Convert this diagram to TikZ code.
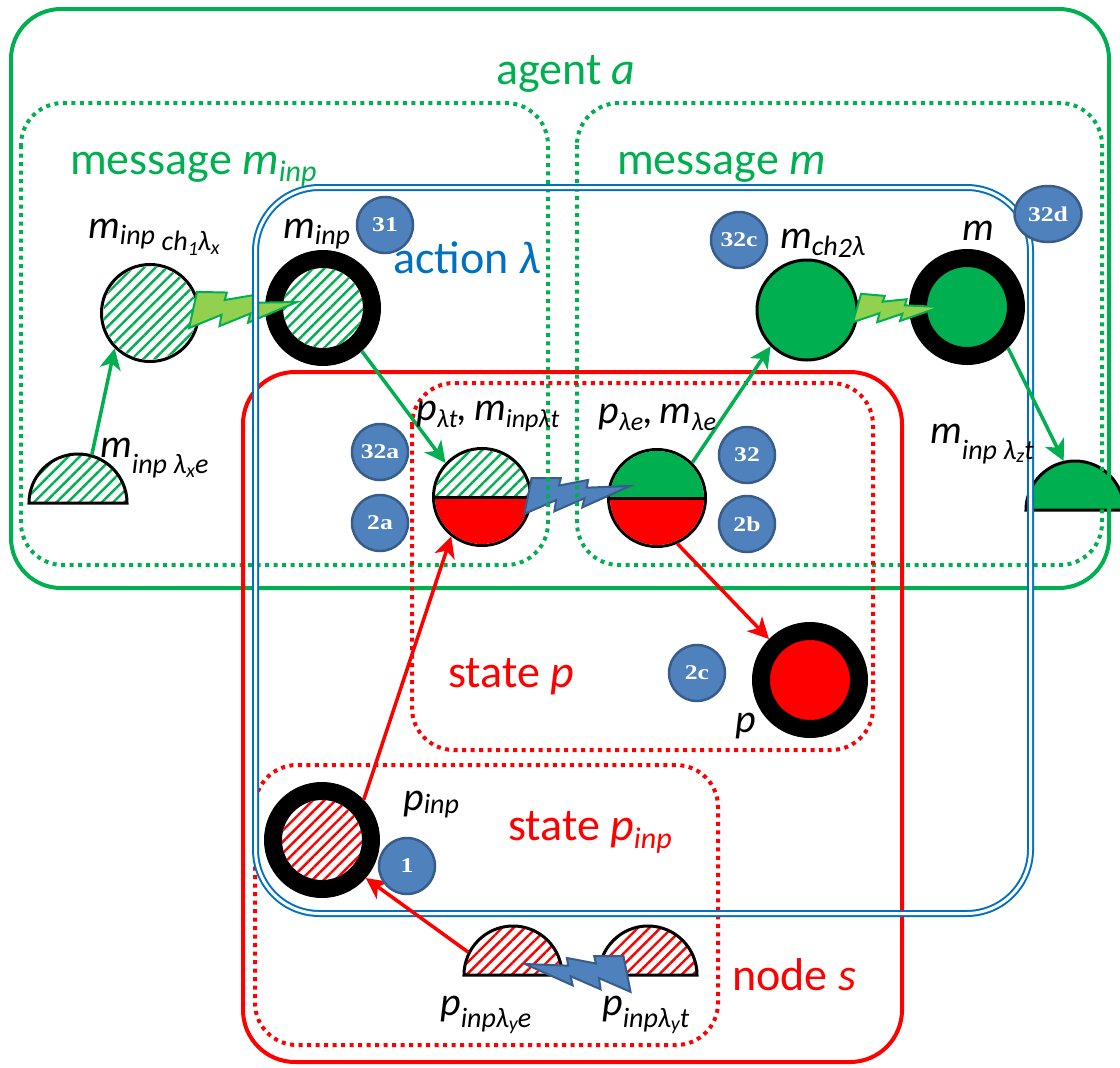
\documentclass[tikz,border=0pt]{standalone}
\usepackage{fontspec}
\setmainfont{Carlito}
\newfontfamily\badgefont{Liberation Serif}
\usetikzlibrary{arrows.meta,patterns.meta,calc,shapes.geometric}

\definecolor{agreen}{HTML}{00B050}
\definecolor{lgreen}{HTML}{92D050}
\definecolor{ablue}{HTML}{0070C0}
\definecolor{bfill}{HTML}{4F81BD}
\definecolor{bdraw}{HTML}{385D8A}
\definecolor{ared}{HTML}{FF0000}

\newcommand\sz[1]{\fontsize{#1}{#1}\selectfont}
% lowered, resized text for subscripts: {drop}{size}{text}
\newcommand\lw[3]{\raisebox{-#1pt}{\sz{#2}#3}}
% badge numbers, set a little wide
\newcommand\bnum[1]{\scalebox{1.22}[1]{#1}}

% lightning bolt from base point #1 to tip #2, #3 = 1 or -1 (mirror), #4 = style
\newcommand\bolt[4]{%
  \path (#1); \pgfgetlastxy{\bax}{\bay}%
  \path (#2); \pgfgetlastxy{\bbx}{\bby}%
  \pgfmathsetmacro\bdx{\bbx-\bax}%
  \pgfmathsetmacro\bdy{\bby-\bay}%
  \gdef\bpath{}%
  \foreach \bu/\bv in {0.0514/-0.1701,0.3359/-0.1420,0.3107/-0.0722,0.5991/-0.0986,0.5782/-0.0249,1/0,0.5164/0.1624,0.5457/0.0758,0.2416/0.1735,0.2689/0.0663,-0.0514/0.1701}{%
    \pgfmathsetmacro\bpx{\bax+(\bu)*(\bdx)+(#3)*(\bv)*(\bdy)}%
    \pgfmathsetmacro\bpy{\bay+(\bu)*(\bdy)-(#3)*(\bv)*(\bdx)}%
    \xdef\bpath{\bpath(\bpx pt,\bpy pt)--}%
  }%
  \tikzset{boltcur/.style={#4}}%
  \edef\bcmd{\noexpand\draw[boltcur]\bpath cycle;}\bcmd
}

\tikzset{
  solidbox/.style={line width=4pt, rounded corners=50pt},
  dotbox/.style={line width=4pt, dash pattern=on 4pt off 4.5pt, rounded corners=42pt},
  badge/.style={circle, fill=bfill, draw=bdraw, line width=2.5pt, minimum size=56pt, inner sep=0pt,
    text=white, font=\badgefont\bfseries\sz{21}},
  ring/.style={circle, draw=black, line width=18pt, minimum size=98pt, inner sep=0pt},
  disc/.style={circle, draw=black, line width=3pt, minimum size=97pt, inner sep=0pt},
  anchorcirc/.style={circle, minimum size=100pt, inner sep=0pt},
  ghatch/.style={pattern={Lines[angle=45,distance=8pt,line width=2.4pt]}, pattern color=agreen},
  rhatch/.style={pattern={Lines[angle=45,distance=8pt,line width=2.4pt]}, pattern color=ared},
  garrow/.style={draw=agreen, line width=3.5pt, -{Stealth[length=21pt,width=21pt,inset=6pt]}},
  rarrow/.style={draw=ared, line width=3.5pt, -{Stealth[length=21pt,width=21pt,inset=6pt]}},
  greenbolt/.style={fill=lgreen, draw=agreen, line width=2pt},
  bluebolt/.style={fill=bfill, draw=bdraw, line width=2pt},
  lab/.style={inner sep=0pt, anchor=base west, font=\itshape\sz{40}},
  title/.style={inner sep=0pt, anchor=base west, font=\sz{46}},
}

\newcommand\halfdisc[2]{%
  \draw[line width=3pt, #2] ($(#1.center)+(-49,0)$) arc[start angle=180, end angle=360, radius=49] -- cycle;}

\begin{document}
\begin{tikzpicture}[x=1pt, y=-1pt]
\useasboundingbox (0,0) rectangle (1120,1068);
\fill[white] (0,0) rectangle (1120,1068);

% ---------- half discs ----------
\node[anchorcirc] (hx)  at (78,503)   {};
\node[anchorcirc] (hz)  at (1075,510) {};
\node[anchorcirc] (hye) at (513,975)  {};
\node[anchorcirc] (hyt) at (648,975)  {};
\halfdisc{hx}{ghatch}
\halfdisc{hz}{fill=agreen}
\halfdisc{hye}{rhatch}
\halfdisc{hyt}{rhatch}

% ---------- circles ----------
\node[disc] (c1) at (150,313) {};
\fill[ghatch] (c1.center) circle (46.5);

\node[ring] (mi) at (323,308) {};
\fill[ghatch] (mi.center) circle (40);

\node[disc] (sl) at (482,497) {};
\begin{scope}
  \clip ($(sl.center)+(-60,-60)$) rectangle ($(sl.center)+(60,0)$);
  \fill[ghatch] (sl.center) circle (47);
\end{scope}
\begin{scope}
  \clip ($(sl.center)+(-60,0)$) rectangle ($(sl.center)+(60,60)$);
  \fill[ared] (sl.center) circle (47);
\end{scope}
\draw[line width=3pt] ($(sl.center)+(-48,0)$) -- ($(sl.center)+(48,0)$);

\node[disc] (sr) at (657,498) {};
\begin{scope}
  \clip ($(sr.center)+(-60,-60)$) rectangle ($(sr.center)+(60,0)$);
  \fill[agreen] (sr.center) circle (47);
\end{scope}
\begin{scope}
  \clip ($(sr.center)+(-60,0)$) rectangle ($(sr.center)+(60,60)$);
  \fill[ared] (sr.center) circle (47);
\end{scope}
\draw[line width=3pt] ($(sr.center)+(-48,0)$) -- ($(sr.center)+(48,0)$);

\node[disc, fill=agreen, minimum size=100pt] (mc) at (807,310) {};
\node[ring, fill=agreen] (mm) at (967,307) {};
\node[ring, fill=ared] (pr) at (810,680) {};
\node[ring] (pi) at (322,840) {};
\fill[rhatch] (pi.center) circle (40);

% ---------- lightning bolts ----------
\coordinate (k1a) at (193,310); \coordinate (k1b) at (297,302);
\coordinate (k2a) at (528,496); \coordinate (k2b) at (630,486);
\coordinate (k3a) at (857,308); \coordinate (k3b) at (940,307);
\coordinate (k4a) at (627,974); \coordinate (k4b) at (525,964);
\bolt{k1a}{k1b}{1}{greenbolt}
\bolt{k2a}{k2b}{1}{bluebolt}
\bolt{k3a}{k3b}{1}{greenbolt}
\bolt{k4a}{k4b}{-1}{bluebolt}

% ---------- boxes ----------
\draw[solidbox, agreen] (11,9) rectangle (1109,588);
\draw[dotbox, agreen] (21,103) rectangle (548,565);
\draw[dotbox, agreen] (577,103) rectangle (1102,565);
\draw[solidbox, ared, rounded corners=52pt] (243,372) rectangle (902,1062);
\draw[dotbox, ared] (412,383) rectangle (873,750);
\draw[dotbox, ared] (255,765) rectangle (718,1045);
\draw[ablue, line width=2pt, double=white, double distance=3pt, rounded corners=64pt]
  (255.5,187.5) rectangle (1030.5,913.5);

% ---------- arrows ----------
\draw[garrow] (hx.74) -- (c1.225);
\draw[garrow] (mi.-48) -- (sl.137);
\draw[garrow] (sr.45) -- (mc.225);
\draw[garrow] (mm.-45) -- (hz.103);
\draw[rarrow] (pi.44) -- (sl.232);
\draw[rarrow] (sr.-66) -- (pr.135);
\draw[rarrow] (hye.153) -- (pi.-41);

% ---------- group titles ----------
\node[title, text=agreen] (tagent) at (496,84) {agent \textit{a}};
\node[title, text=agreen] (tmin) at (70,174) {message \textit{m}\lw{7}{30}{\textit{inp}}};
\node[title, text=agreen] (tm) at (617,174) {message \textit{m}};
\node[title, text=ablue] (tact) at (393,273) {action \textit{λ}};
\node[title, text=ared] (tsp) at (448,687) {state \textit{p}};
\node[title, text=ared] (tspi) at (508,840) {state \textit{p}\lw{8}{30}{\textit{inp}}};
\node[title, text=ared] (tnode) at (732,990) {node \textit{s}};

% ---------- numbered badges ----------
\node[badge] (n31)  at (385,225) {\bnum{31}};
\node[badge] (n32a) at (380,452) {\bnum{32a}};
\node[badge] (n2a)  at (380,523) {\bnum{2a}};
\node[badge] (n32)  at (747,455) {\bnum{32}};
\node[badge] (n2b)  at (747,524) {\bnum{2b}};
\node[badge] (n32c) at (739,240) {\bnum{32c}};
\node[badge, ellipse, minimum width=67pt, minimum height=56pt] (n32d) at (1048,214) {\bnum{32d}};
\node[badge] (n2c)  at (697,673) {\bnum{2c}};
\node[badge] (n1)   at (407,866) {\bnum{1}};

% ---------- element labels ----------
\node[lab] (l1)  at (88,238)  {m\lw{6}{28}{inp}\,\lw{12}{28}{ch\lw{5}{20}{1}λ\lw{4}{20}{x}}};
\node[lab] (l2)  at (283,238) {m\lw{6}{28}{inp}};
\node[lab] (l3)  at (100,457) {m\lw{16}{28}{inp λ\lw{4}{20}{x}e}};
\node[lab] (l4)  at (416,420) {p\lw{7}{26}{λt},\,m\lw{7}{26}{inpλt}};
\node[lab] (l5)  at (598,423) {p\lw{7}{26}{λe},\,m\lw{7}{26}{λe}};
\node[lab] (l6)  at (780,248) {m\lw{7}{28}{ch\lw{2}{28}{2}λ}};
\node[lab] (l7)  at (962,240) {m};
\node[lab] (l8)  at (930,443) {m\lw{16}{28}{inp λ\lw{3}{20}{z}t}};
\node[lab] (l9)  at (735,732) {p};
\node[lab] (l10) at (403,810) {p\lw{3}{28}{inp}};
\node[lab] (l11) at (440,1015) {p\lw{12}{28}{inpλ\lw{3}{20}{y}e}};
\node[lab] (l12) at (602,1015) {p\lw{12}{28}{inpλ\lw{3}{20}{y}t}};
\end{tikzpicture}
\end{document}
